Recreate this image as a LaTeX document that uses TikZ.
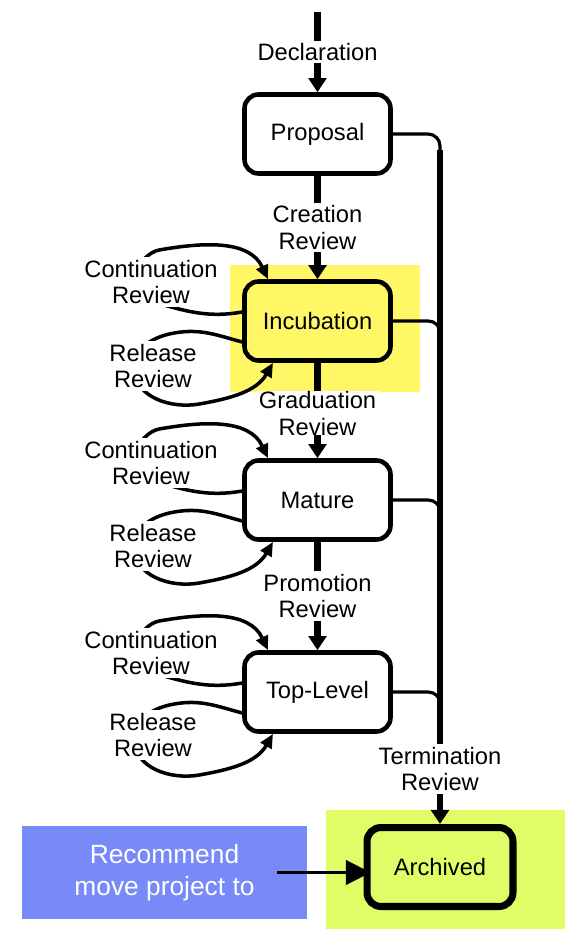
\documentclass[tikz,border=0pt]{standalone}
\usepackage{fontspec}
\setmainfont{Liberation Sans}
\usetikzlibrary{arrows.meta,positioning}

\definecolor{hiyellow}{RGB}{255,247,102}
\definecolor{higreen}{RGB}{222,253,102}
\definecolor{recblue}{RGB}{120,137,248}

\tikzset{
  phase/.style={draw, line width=2.6pt, rounded corners=0.28cm, minimum width=2.92cm, minimum height=1.58cm, font=\fontsize{13.5}{15}\selectfont},
  review/.style={fill=white, inner sep=1.5pt, align=center, font=\fontsize{13.5}{15}\selectfont},
  note/.style={fill=recblue, text=white, minimum width=5.7cm, minimum height=1.86cm, align=center, font=\fontsize{15}{18}\selectfont},
  flow/.style={line width=3.6pt, -{Triangle[width=10pt,length=8pt]}},
  revloop/.style={line width=2pt, -{Triangle[width=7pt,length=8pt]}},
  spur/.style={line width=1.8pt, rounded corners=0.24cm},
  trunk/.style={line width=3.2pt, -{Triangle[width=10pt,length=8pt]}},
  pointer/.style={line width=1.2pt, shorten >=-4pt, -{Triangle[width=14pt,length=14pt]}},
}

\begin{document}
\begin{tikzpicture}[x=0.02cm, y=-0.02cm]
\useasboundingbox (0,0) rectangle (565,929);
% Highlights
\fill[hiyellow] (230,265) rectangle (420,392);
\fill[higreen] (326,810) rectangle (565,929);
% Phases
\node[phase] (prop) at (317.5,134) {Proposal};
\node[phase] (inc) at (317.5,321) {Incubation};
\node[phase] (mat) at (317.5,500) {Mature};
\node[phase] (top) at (317.5,692) {Top-Level};
\node[phase, line width=4pt] (arch) at (440,867) {Archived};
\node[note] (rec) at (164.5,872.5) {Recommend\\move project to};
% Main path
\coordinate (entry) at (317.5,12);
\draw[flow] (entry) -- node[review] {Declaration} (prop.north);
\draw[flow] (prop.south) -- node[review] {Creation\\Review} (inc.north);
\draw[flow] (inc.south) -- node[review, inner ysep=0pt, pos=0.53] {Graduation\\Review} (mat.north);
\draw[flow] (mat.south) -- node[review] {Promotion\\Review} (top.north);
% Termination
\coordinate (bend) at (440,150);
\draw[spur] (prop.east) -| (bend);
\draw[spur] (inc.east) -| ++(47.5,18);
\draw[spur] (mat.east) -| ++(47.5,18);
\draw[spur] (top.east) -| ++(47.5,18);
\draw[trunk] (bend) -- (arch.north);
\node[review] (term) at (440,769) {Termination\\Review};
% Continuation and release loops
\draw[revloop] ([shift={(0,-9)}]inc.west) to[out=190,in=-15] ++(-103,-14) to[out=165,in=190] ++(20,-48) to[out=10,in=115] ([shift={(-49.5,0)}]inc.north);
\draw[revloop] ([shift={(0,21)}]inc.west) to[out=165,in=10] ++(-68,-9) to[out=190,in=90] ++(-40,35) to[out=-90,in=190] ++(65,36) to[out=10,in=240] ([shift={(-44.5,0)}]inc.south);
\draw[revloop] ([shift={(0,-9)}]mat.west) to[out=190,in=-15] ++(-103,-14) to[out=165,in=190] ++(20,-48) to[out=10,in=115] ([shift={(-49.5,0)}]mat.north);
\draw[revloop] ([shift={(0,21)}]mat.west) to[out=165,in=10] ++(-68,-9) to[out=190,in=90] ++(-40,35) to[out=-90,in=190] ++(65,36) to[out=10,in=240] ([shift={(-44.5,0)}]mat.south);
\draw[revloop] ([shift={(0,-9)}]top.west) to[out=190,in=-15] ++(-103,-14) to[out=165,in=190] ++(20,-48) to[out=10,in=115] ([shift={(-49.5,0)}]top.north);
\draw[revloop] ([shift={(0,21)}]top.west) to[out=165,in=10] ++(-68,-9) to[out=190,in=90] ++(-40,35) to[out=-90,in=190] ++(65,36) to[out=10,in=240] ([shift={(-44.5,0)}]top.south);
\node[review] (inccont) at (151,282) {Continuation\\Review};
\node[review] (increl) at (153,366) {Release\\Review};
\node[review] (matcont) at (151,463) {Continuation\\Review};
\node[review] (matrel) at (153,546) {Release\\Review};
\node[review] (topcont) at (151,653) {Continuation\\Review};
\node[review] (toprel) at (153,735) {Release\\Review};
% Recommendation
\draw[pointer] ([shift={(-30,0)}]rec.east) -- (rec.east -| arch.west);
\end{tikzpicture}
\end{document}
